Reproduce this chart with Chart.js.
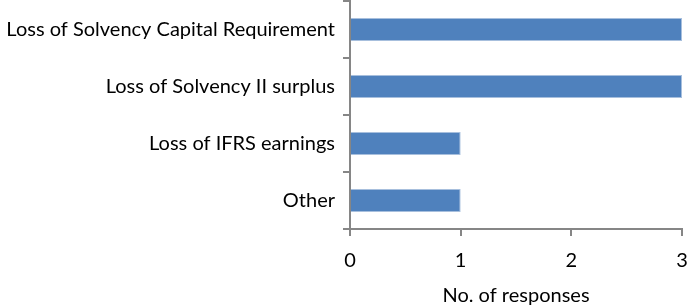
<!DOCTYPE html>
<html>
<head>
<meta charset="utf-8">
<script src="https://cdn.jsdelivr.net/npm/chart.js@4"></script>
<style>
  html, body { margin: 0; padding: 0; background: #fff; }
  #wrap { width: 687px; height: 308px; }
</style>
</head>
<body>
<div id="wrap"><canvas id="chart"></canvas></div>
<script>
const categories = ['Loss of Solvency Capital Requirement', 'Loss of Solvency II surplus', 'Loss of IFRS earnings', 'Other']
const responses = [3, 3, 1, 1]
const xTicks = [0, 1, 2, 3]

const axisGrey = '#868686'
const labelFont = { family: 'Lato', size: 20 }
const ctx = document.getElementById('chart').getContext('2d')

new Chart(ctx, {
    type: 'bar',
    data: {
        labels: categories,
        datasets: [{
            label: 'No. of responses',
            data: responses,
            backgroundColor: '#4f81bd',
            borderColor: '#a7bfdd',
            borderWidth: 1,
            categoryPercentage: 1,
            barPercentage: 0.4
        }]
    },
    options: {
        indexAxis: 'y',
        responsive: true,
        maintainAspectRatio: false,
        animation: false,
        layout: { padding: { top: 1, right: 0, left: 0, bottom: 0 } },
        plugins: {
            legend: { display: false },
            tooltip: { enabled: false }
        },
        scales: {
            x: {
                min: 0,
                max: 3,
                afterBuildTicks: axis => { axis.ticks = xTicks.map(v => ({ value: v })) },
                afterFit: axis => {
                    axis.height = 79
                    axis.paddingLeft = 0
                    axis.paddingRight = 5
                },
                grid: { drawOnChartArea: false, color: axisGrey, tickLength: 7, lineWidth: 2 },
                border: { color: axisGrey, width: 2 },
                ticks: { color: '#000', font: labelFont, padding: 13 },
                title: {
                    display: true,
                    text: 'No. of responses',
                    color: '#000',
                    font: labelFont,
                    padding: { top: 4, bottom: 0 }
                }
            },
            y: {
                afterFit: axis => {
                    axis.width = 350
                    axis.paddingTop = 0
                    axis.paddingBottom = 0
                },
                grid: { drawOnChartArea: false, color: axisGrey, tickLength: 7, lineWidth: 2 },
                border: { color: axisGrey, width: 2 },
                ticks: { color: '#000', font: labelFont, padding: 8 }
            }
        }
    }
})
</script>
</body>
</html>
